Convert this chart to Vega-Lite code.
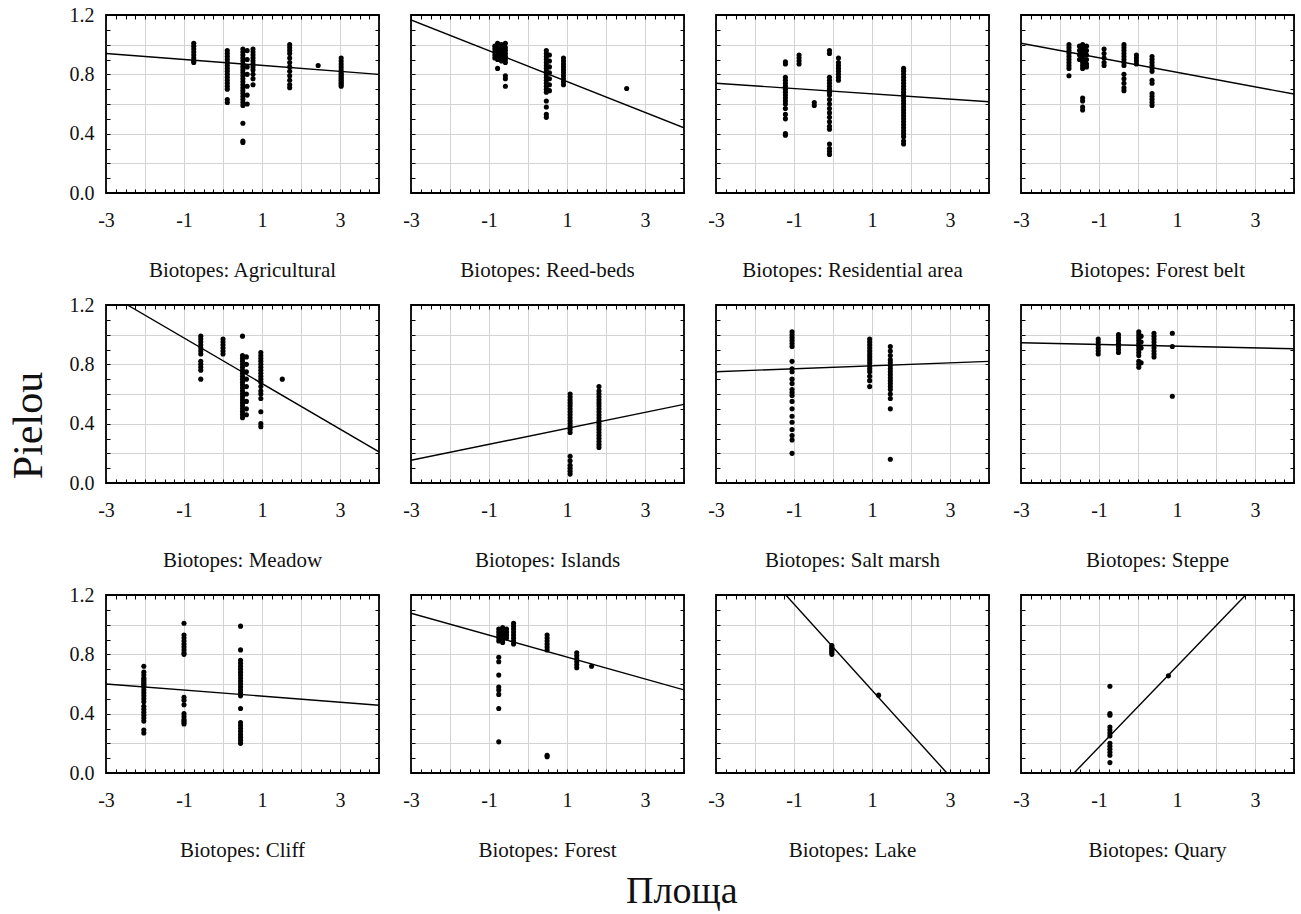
{
"$schema": "https://vega.github.io/schema/vega-lite/v6.json",
"background": "white",
"padding": {"left": 8, "top": 4, "right": 2, "bottom": 0},
"datasets": {
"lines": [
{"b":"Agricultural","x":-3,"y":0.94},{"b":"Agricultural","x":4,"y":0.80},
{"b":"Reed-beds","x":-3,"y":1.167},{"b":"Reed-beds","x":4,"y":0.44},
{"b":"Residential area","x":-3,"y":0.74},{"b":"Residential area","x":4,"y":0.615},
{"b":"Forest belt","x":-3,"y":1.01},{"b":"Forest belt","x":4,"y":0.667},
{"b":"Meadow","x":-2.45,"y":1.2},{"b":"Meadow","x":4,"y":0.21},
{"b":"Islands","x":-3,"y":0.153},{"b":"Islands","x":4,"y":0.53},
{"b":"Salt marsh","x":-3,"y":0.75},{"b":"Salt marsh","x":4,"y":0.82},
{"b":"Steppe","x":-3,"y":0.946},{"b":"Steppe","x":4,"y":0.905},
{"b":"Cliff","x":-3,"y":0.60},{"b":"Cliff","x":4,"y":0.457},
{"b":"Forest","x":-3,"y":1.077},{"b":"Forest","x":4,"y":0.56},
{"b":"Lake","x":-1.21,"y":1.2},{"b":"Lake","x":2.92,"y":0},
{"b":"Quary","x":-1.64,"y":0},{"b":"Quary","x":2.76,"y":1.2}
],
"pts": [
{"b":"Agricultural","x":-0.75,"y":1.01},{"b":"Agricultural","x":-0.75,"y":0.99},{"b":"Agricultural","x":-0.75,"y":0.97},{"b":"Agricultural","x":-0.75,"y":0.95},{"b":"Agricultural","x":-0.75,"y":0.93},{"b":"Agricultural","x":-0.75,"y":0.91},{"b":"Agricultural","x":-0.75,"y":0.89},{"b":"Agricultural","x":-0.75,"y":0.88},
{"b":"Agricultural","x":0.11,"y":0.96},{"b":"Agricultural","x":0.11,"y":0.94},{"b":"Agricultural","x":0.11,"y":0.92},{"b":"Agricultural","x":0.11,"y":0.90},{"b":"Agricultural","x":0.11,"y":0.88},{"b":"Agricultural","x":0.11,"y":0.86},{"b":"Agricultural","x":0.11,"y":0.84},{"b":"Agricultural","x":0.11,"y":0.82},{"b":"Agricultural","x":0.11,"y":0.80},{"b":"Agricultural","x":0.11,"y":0.78},{"b":"Agricultural","x":0.11,"y":0.76},{"b":"Agricultural","x":0.11,"y":0.74},{"b":"Agricultural","x":0.11,"y":0.72},{"b":"Agricultural","x":0.11,"y":0.70},{"b":"Agricultural","x":0.11,"y":0.63},{"b":"Agricultural","x":0.11,"y":0.61},
{"b":"Agricultural","x":0.51,"y":0.97},{"b":"Agricultural","x":0.51,"y":0.95},{"b":"Agricultural","x":0.51,"y":0.93},{"b":"Agricultural","x":0.51,"y":0.91},{"b":"Agricultural","x":0.51,"y":0.89},{"b":"Agricultural","x":0.51,"y":0.87},{"b":"Agricultural","x":0.51,"y":0.85},{"b":"Agricultural","x":0.51,"y":0.83},{"b":"Agricultural","x":0.51,"y":0.81},{"b":"Agricultural","x":0.51,"y":0.79},{"b":"Agricultural","x":0.51,"y":0.77},{"b":"Agricultural","x":0.51,"y":0.75},{"b":"Agricultural","x":0.51,"y":0.73},{"b":"Agricultural","x":0.51,"y":0.71},{"b":"Agricultural","x":0.51,"y":0.69},{"b":"Agricultural","x":0.51,"y":0.67},{"b":"Agricultural","x":0.51,"y":0.65},{"b":"Agricultural","x":0.51,"y":0.63},{"b":"Agricultural","x":0.51,"y":0.61},{"b":"Agricultural","x":0.51,"y":0.59},{"b":"Agricultural","x":0.51,"y":0.47},{"b":"Agricultural","x":0.51,"y":0.35},{"b":"Agricultural","x":0.51,"y":0.34},
{"b":"Agricultural","x":0.62,"y":0.96},{"b":"Agricultural","x":0.62,"y":0.90},{"b":"Agricultural","x":0.62,"y":0.85},{"b":"Agricultural","x":0.62,"y":0.80},{"b":"Agricultural","x":0.62,"y":0.72},{"b":"Agricultural","x":0.62,"y":0.66},{"b":"Agricultural","x":0.62,"y":0.60},
{"b":"Agricultural","x":0.77,"y":0.97},{"b":"Agricultural","x":0.77,"y":0.95},{"b":"Agricultural","x":0.77,"y":0.93},{"b":"Agricultural","x":0.77,"y":0.91},{"b":"Agricultural","x":0.77,"y":0.89},{"b":"Agricultural","x":0.77,"y":0.87},{"b":"Agricultural","x":0.77,"y":0.85},{"b":"Agricultural","x":0.77,"y":0.83},{"b":"Agricultural","x":0.77,"y":0.80},{"b":"Agricultural","x":0.77,"y":0.77},{"b":"Agricultural","x":0.77,"y":0.73},
{"b":"Agricultural","x":1.71,"y":1.0},{"b":"Agricultural","x":1.71,"y":0.98},{"b":"Agricultural","x":1.71,"y":0.96},{"b":"Agricultural","x":1.71,"y":0.94},{"b":"Agricultural","x":1.71,"y":0.91},{"b":"Agricultural","x":1.71,"y":0.88},{"b":"Agricultural","x":1.71,"y":0.85},{"b":"Agricultural","x":1.71,"y":0.82},{"b":"Agricultural","x":1.71,"y":0.79},{"b":"Agricultural","x":1.71,"y":0.76},{"b":"Agricultural","x":1.71,"y":0.73},{"b":"Agricultural","x":1.71,"y":0.71},
{"b":"Agricultural","x":2.44,"y":0.86},
{"b":"Agricultural","x":3.03,"y":0.91},{"b":"Agricultural","x":3.03,"y":0.89},{"b":"Agricultural","x":3.03,"y":0.87},{"b":"Agricultural","x":3.03,"y":0.85},{"b":"Agricultural","x":3.03,"y":0.83},{"b":"Agricultural","x":3.03,"y":0.81},{"b":"Agricultural","x":3.03,"y":0.80},{"b":"Agricultural","x":3.03,"y":0.79},{"b":"Agricultural","x":3.03,"y":0.78},{"b":"Agricultural","x":3.03,"y":0.77},{"b":"Agricultural","x":3.03,"y":0.76},{"b":"Agricultural","x":3.03,"y":0.75},{"b":"Agricultural","x":3.03,"y":0.74},{"b":"Agricultural","x":3.03,"y":0.73},{"b":"Agricultural","x":3.03,"y":0.72},

{"b":"Reed-beds","x":-0.85,"y":0.99},{"b":"Reed-beds","x":-0.85,"y":0.97},{"b":"Reed-beds","x":-0.85,"y":0.95},{"b":"Reed-beds","x":-0.85,"y":0.93},{"b":"Reed-beds","x":-0.85,"y":0.91},
{"b":"Reed-beds","x":-0.78,"y":1.01},{"b":"Reed-beds","x":-0.78,"y":0.98},{"b":"Reed-beds","x":-0.78,"y":0.96},{"b":"Reed-beds","x":-0.78,"y":0.94},{"b":"Reed-beds","x":-0.78,"y":0.92},{"b":"Reed-beds","x":-0.78,"y":0.90},{"b":"Reed-beds","x":-0.78,"y":0.84},
{"b":"Reed-beds","x":-0.68,"y":1.0},{"b":"Reed-beds","x":-0.68,"y":0.97},{"b":"Reed-beds","x":-0.68,"y":0.95},{"b":"Reed-beds","x":-0.68,"y":0.93},{"b":"Reed-beds","x":-0.68,"y":0.91},{"b":"Reed-beds","x":-0.68,"y":0.89},
{"b":"Reed-beds","x":-0.58,"y":1.01},{"b":"Reed-beds","x":-0.58,"y":0.98},{"b":"Reed-beds","x":-0.58,"y":0.96},{"b":"Reed-beds","x":-0.58,"y":0.94},{"b":"Reed-beds","x":-0.58,"y":0.92},{"b":"Reed-beds","x":-0.58,"y":0.90},{"b":"Reed-beds","x":-0.58,"y":0.88},{"b":"Reed-beds","x":-0.58,"y":0.79},{"b":"Reed-beds","x":-0.58,"y":0.77},{"b":"Reed-beds","x":-0.58,"y":0.72},
{"b":"Reed-beds","x":0.47,"y":0.96},{"b":"Reed-beds","x":0.47,"y":0.94},{"b":"Reed-beds","x":0.47,"y":0.92},{"b":"Reed-beds","x":0.47,"y":0.90},{"b":"Reed-beds","x":0.47,"y":0.88},{"b":"Reed-beds","x":0.47,"y":0.86},{"b":"Reed-beds","x":0.47,"y":0.84},{"b":"Reed-beds","x":0.47,"y":0.82},{"b":"Reed-beds","x":0.47,"y":0.80},{"b":"Reed-beds","x":0.47,"y":0.78},{"b":"Reed-beds","x":0.47,"y":0.76},{"b":"Reed-beds","x":0.47,"y":0.74},{"b":"Reed-beds","x":0.47,"y":0.72},{"b":"Reed-beds","x":0.47,"y":0.70},{"b":"Reed-beds","x":0.47,"y":0.68},{"b":"Reed-beds","x":0.47,"y":0.62},{"b":"Reed-beds","x":0.47,"y":0.58},{"b":"Reed-beds","x":0.47,"y":0.53},{"b":"Reed-beds","x":0.47,"y":0.51},
{"b":"Reed-beds","x":0.55,"y":0.93},{"b":"Reed-beds","x":0.55,"y":0.89},{"b":"Reed-beds","x":0.55,"y":0.85},{"b":"Reed-beds","x":0.55,"y":0.81},{"b":"Reed-beds","x":0.55,"y":0.77},{"b":"Reed-beds","x":0.55,"y":0.73},{"b":"Reed-beds","x":0.55,"y":0.69},
{"b":"Reed-beds","x":0.91,"y":0.91},{"b":"Reed-beds","x":0.91,"y":0.89},{"b":"Reed-beds","x":0.91,"y":0.87},{"b":"Reed-beds","x":0.91,"y":0.85},{"b":"Reed-beds","x":0.91,"y":0.83},{"b":"Reed-beds","x":0.91,"y":0.81},{"b":"Reed-beds","x":0.91,"y":0.79},{"b":"Reed-beds","x":0.91,"y":0.77},{"b":"Reed-beds","x":0.91,"y":0.75},{"b":"Reed-beds","x":0.91,"y":0.73},
{"b":"Reed-beds","x":2.53,"y":0.705},

{"b":"Residential area","x":-1.22,"y":0.885},{"b":"Residential area","x":-1.22,"y":0.87},{"b":"Residential area","x":-1.22,"y":0.78},{"b":"Residential area","x":-1.22,"y":0.76},{"b":"Residential area","x":-1.22,"y":0.74},{"b":"Residential area","x":-1.22,"y":0.72},{"b":"Residential area","x":-1.22,"y":0.70},{"b":"Residential area","x":-1.22,"y":0.68},{"b":"Residential area","x":-1.22,"y":0.66},{"b":"Residential area","x":-1.22,"y":0.64},{"b":"Residential area","x":-1.22,"y":0.62},{"b":"Residential area","x":-1.22,"y":0.60},{"b":"Residential area","x":-1.22,"y":0.57},{"b":"Residential area","x":-1.22,"y":0.53},{"b":"Residential area","x":-1.22,"y":0.50},{"b":"Residential area","x":-1.22,"y":0.40},{"b":"Residential area","x":-1.22,"y":0.39},
{"b":"Residential area","x":-0.87,"y":0.93},{"b":"Residential area","x":-0.87,"y":0.91},{"b":"Residential area","x":-0.87,"y":0.89},{"b":"Residential area","x":-0.87,"y":0.87},
{"b":"Residential area","x":-0.48,"y":0.61},{"b":"Residential area","x":-0.48,"y":0.59},
{"b":"Residential area","x":-0.09,"y":0.96},{"b":"Residential area","x":-0.09,"y":0.94},{"b":"Residential area","x":-0.09,"y":0.78},{"b":"Residential area","x":-0.09,"y":0.76},{"b":"Residential area","x":-0.09,"y":0.74},{"b":"Residential area","x":-0.09,"y":0.72},{"b":"Residential area","x":-0.09,"y":0.70},{"b":"Residential area","x":-0.09,"y":0.68},{"b":"Residential area","x":-0.09,"y":0.66},{"b":"Residential area","x":-0.09,"y":0.63},{"b":"Residential area","x":-0.09,"y":0.60},{"b":"Residential area","x":-0.09,"y":0.57},{"b":"Residential area","x":-0.09,"y":0.54},{"b":"Residential area","x":-0.09,"y":0.51},{"b":"Residential area","x":-0.09,"y":0.48},{"b":"Residential area","x":-0.09,"y":0.45},{"b":"Residential area","x":-0.09,"y":0.43},{"b":"Residential area","x":-0.09,"y":0.33},{"b":"Residential area","x":-0.09,"y":0.30},{"b":"Residential area","x":-0.09,"y":0.28},{"b":"Residential area","x":-0.09,"y":0.26},
{"b":"Residential area","x":0.14,"y":0.91},{"b":"Residential area","x":0.14,"y":0.88},{"b":"Residential area","x":0.14,"y":0.86},{"b":"Residential area","x":0.14,"y":0.84},{"b":"Residential area","x":0.14,"y":0.82},{"b":"Residential area","x":0.14,"y":0.80},{"b":"Residential area","x":0.14,"y":0.78},{"b":"Residential area","x":0.14,"y":0.76},
{"b":"Residential area","x":1.81,"y":0.84},{"b":"Residential area","x":1.81,"y":0.82},{"b":"Residential area","x":1.81,"y":0.80},{"b":"Residential area","x":1.81,"y":0.78},{"b":"Residential area","x":1.81,"y":0.76},{"b":"Residential area","x":1.81,"y":0.74},{"b":"Residential area","x":1.81,"y":0.72},{"b":"Residential area","x":1.81,"y":0.70},{"b":"Residential area","x":1.81,"y":0.68},{"b":"Residential area","x":1.81,"y":0.66},{"b":"Residential area","x":1.81,"y":0.64},{"b":"Residential area","x":1.81,"y":0.62},{"b":"Residential area","x":1.81,"y":0.60},{"b":"Residential area","x":1.81,"y":0.58},{"b":"Residential area","x":1.81,"y":0.56},{"b":"Residential area","x":1.81,"y":0.54},{"b":"Residential area","x":1.81,"y":0.52},{"b":"Residential area","x":1.81,"y":0.50},{"b":"Residential area","x":1.81,"y":0.48},{"b":"Residential area","x":1.81,"y":0.46},{"b":"Residential area","x":1.81,"y":0.44},{"b":"Residential area","x":1.81,"y":0.42},{"b":"Residential area","x":1.81,"y":0.40},{"b":"Residential area","x":1.81,"y":0.38},{"b":"Residential area","x":1.81,"y":0.35},{"b":"Residential area","x":1.81,"y":0.33},

{"b":"Forest belt","x":-1.77,"y":1.0},{"b":"Forest belt","x":-1.77,"y":0.98},{"b":"Forest belt","x":-1.77,"y":0.96},{"b":"Forest belt","x":-1.77,"y":0.94},{"b":"Forest belt","x":-1.77,"y":0.92},{"b":"Forest belt","x":-1.77,"y":0.90},{"b":"Forest belt","x":-1.77,"y":0.88},{"b":"Forest belt","x":-1.77,"y":0.86},{"b":"Forest belt","x":-1.77,"y":0.84},{"b":"Forest belt","x":-1.77,"y":0.79},
{"b":"Forest belt","x":-1.5,"y":0.99},{"b":"Forest belt","x":-1.5,"y":0.96},{"b":"Forest belt","x":-1.5,"y":0.93},{"b":"Forest belt","x":-1.5,"y":0.90},
{"b":"Forest belt","x":-1.42,"y":1.0},{"b":"Forest belt","x":-1.42,"y":0.98},{"b":"Forest belt","x":-1.42,"y":0.96},{"b":"Forest belt","x":-1.42,"y":0.94},{"b":"Forest belt","x":-1.42,"y":0.92},{"b":"Forest belt","x":-1.42,"y":0.90},{"b":"Forest belt","x":-1.42,"y":0.88},{"b":"Forest belt","x":-1.42,"y":0.86},{"b":"Forest belt","x":-1.42,"y":0.84},{"b":"Forest belt","x":-1.42,"y":0.64},{"b":"Forest belt","x":-1.42,"y":0.62},{"b":"Forest belt","x":-1.42,"y":0.58},{"b":"Forest belt","x":-1.42,"y":0.56},
{"b":"Forest belt","x":-1.32,"y":0.99},{"b":"Forest belt","x":-1.32,"y":0.96},{"b":"Forest belt","x":-1.32,"y":0.93},{"b":"Forest belt","x":-1.32,"y":0.90},{"b":"Forest belt","x":-1.32,"y":0.87},{"b":"Forest belt","x":-1.32,"y":0.85},
{"b":"Forest belt","x":-0.87,"y":0.97},{"b":"Forest belt","x":-0.87,"y":0.94},{"b":"Forest belt","x":-0.87,"y":0.91},{"b":"Forest belt","x":-0.87,"y":0.88},{"b":"Forest belt","x":-0.87,"y":0.86},
{"b":"Forest belt","x":-0.36,"y":1.0},{"b":"Forest belt","x":-0.36,"y":0.98},{"b":"Forest belt","x":-0.36,"y":0.96},{"b":"Forest belt","x":-0.36,"y":0.94},{"b":"Forest belt","x":-0.36,"y":0.92},{"b":"Forest belt","x":-0.36,"y":0.90},{"b":"Forest belt","x":-0.36,"y":0.88},{"b":"Forest belt","x":-0.36,"y":0.86},{"b":"Forest belt","x":-0.36,"y":0.80},{"b":"Forest belt","x":-0.36,"y":0.77},{"b":"Forest belt","x":-0.36,"y":0.74},{"b":"Forest belt","x":-0.36,"y":0.71},{"b":"Forest belt","x":-0.36,"y":0.69},
{"b":"Forest belt","x":-0.04,"y":0.93},{"b":"Forest belt","x":-0.04,"y":0.91},{"b":"Forest belt","x":-0.04,"y":0.89},{"b":"Forest belt","x":-0.04,"y":0.87},
{"b":"Forest belt","x":0.36,"y":0.92},{"b":"Forest belt","x":0.36,"y":0.90},{"b":"Forest belt","x":0.36,"y":0.88},{"b":"Forest belt","x":0.36,"y":0.86},{"b":"Forest belt","x":0.36,"y":0.84},{"b":"Forest belt","x":0.36,"y":0.82},{"b":"Forest belt","x":0.36,"y":0.76},{"b":"Forest belt","x":0.36,"y":0.74},{"b":"Forest belt","x":0.36,"y":0.67},{"b":"Forest belt","x":0.36,"y":0.65},{"b":"Forest belt","x":0.36,"y":0.63},{"b":"Forest belt","x":0.36,"y":0.61},{"b":"Forest belt","x":0.36,"y":0.59},

{"b":"Meadow","x":-0.57,"y":0.99},{"b":"Meadow","x":-0.57,"y":0.97},{"b":"Meadow","x":-0.57,"y":0.95},{"b":"Meadow","x":-0.57,"y":0.93},{"b":"Meadow","x":-0.57,"y":0.91},{"b":"Meadow","x":-0.57,"y":0.89},{"b":"Meadow","x":-0.57,"y":0.87},{"b":"Meadow","x":-0.57,"y":0.82},{"b":"Meadow","x":-0.57,"y":0.80},{"b":"Meadow","x":-0.57,"y":0.78},{"b":"Meadow","x":-0.57,"y":0.76},{"b":"Meadow","x":-0.57,"y":0.70},
{"b":"Meadow","x":0.0,"y":0.97},{"b":"Meadow","x":0.0,"y":0.95},{"b":"Meadow","x":0.0,"y":0.93},{"b":"Meadow","x":0.0,"y":0.91},{"b":"Meadow","x":0.0,"y":0.89},{"b":"Meadow","x":0.0,"y":0.87},
{"b":"Meadow","x":0.5,"y":0.99},{"b":"Meadow","x":0.5,"y":0.86},{"b":"Meadow","x":0.5,"y":0.84},{"b":"Meadow","x":0.5,"y":0.82},{"b":"Meadow","x":0.5,"y":0.80},{"b":"Meadow","x":0.5,"y":0.78},{"b":"Meadow","x":0.5,"y":0.76},{"b":"Meadow","x":0.5,"y":0.74},{"b":"Meadow","x":0.5,"y":0.72},{"b":"Meadow","x":0.5,"y":0.70},{"b":"Meadow","x":0.5,"y":0.68},{"b":"Meadow","x":0.5,"y":0.66},{"b":"Meadow","x":0.5,"y":0.64},{"b":"Meadow","x":0.5,"y":0.62},{"b":"Meadow","x":0.5,"y":0.60},{"b":"Meadow","x":0.5,"y":0.58},{"b":"Meadow","x":0.5,"y":0.56},{"b":"Meadow","x":0.5,"y":0.54},{"b":"Meadow","x":0.5,"y":0.52},{"b":"Meadow","x":0.5,"y":0.50},{"b":"Meadow","x":0.5,"y":0.48},{"b":"Meadow","x":0.5,"y":0.46},{"b":"Meadow","x":0.5,"y":0.44},
{"b":"Meadow","x":0.6,"y":0.85},{"b":"Meadow","x":0.6,"y":0.80},{"b":"Meadow","x":0.6,"y":0.75},{"b":"Meadow","x":0.6,"y":0.70},{"b":"Meadow","x":0.6,"y":0.65},{"b":"Meadow","x":0.6,"y":0.60},{"b":"Meadow","x":0.6,"y":0.55},{"b":"Meadow","x":0.6,"y":0.50},{"b":"Meadow","x":0.6,"y":0.46},
{"b":"Meadow","x":0.97,"y":0.88},{"b":"Meadow","x":0.97,"y":0.86},{"b":"Meadow","x":0.97,"y":0.84},{"b":"Meadow","x":0.97,"y":0.82},{"b":"Meadow","x":0.97,"y":0.80},{"b":"Meadow","x":0.97,"y":0.78},{"b":"Meadow","x":0.97,"y":0.76},{"b":"Meadow","x":0.97,"y":0.74},{"b":"Meadow","x":0.97,"y":0.72},{"b":"Meadow","x":0.97,"y":0.70},{"b":"Meadow","x":0.97,"y":0.68},{"b":"Meadow","x":0.97,"y":0.65},{"b":"Meadow","x":0.97,"y":0.62},{"b":"Meadow","x":0.97,"y":0.60},{"b":"Meadow","x":0.97,"y":0.57},{"b":"Meadow","x":0.97,"y":0.48},{"b":"Meadow","x":0.97,"y":0.40},{"b":"Meadow","x":0.97,"y":0.38},
{"b":"Meadow","x":1.52,"y":0.70},

{"b":"Islands","x":1.08,"y":0.60},{"b":"Islands","x":1.08,"y":0.58},{"b":"Islands","x":1.08,"y":0.56},{"b":"Islands","x":1.08,"y":0.54},{"b":"Islands","x":1.08,"y":0.52},{"b":"Islands","x":1.08,"y":0.50},{"b":"Islands","x":1.08,"y":0.48},{"b":"Islands","x":1.08,"y":0.46},{"b":"Islands","x":1.08,"y":0.44},{"b":"Islands","x":1.08,"y":0.42},{"b":"Islands","x":1.08,"y":0.40},{"b":"Islands","x":1.08,"y":0.38},{"b":"Islands","x":1.08,"y":0.36},{"b":"Islands","x":1.08,"y":0.34},{"b":"Islands","x":1.08,"y":0.18},{"b":"Islands","x":1.08,"y":0.15},{"b":"Islands","x":1.08,"y":0.12},{"b":"Islands","x":1.08,"y":0.10},{"b":"Islands","x":1.08,"y":0.08},{"b":"Islands","x":1.08,"y":0.06},
{"b":"Islands","x":1.82,"y":0.65},{"b":"Islands","x":1.82,"y":0.62},{"b":"Islands","x":1.82,"y":0.60},{"b":"Islands","x":1.82,"y":0.58},{"b":"Islands","x":1.82,"y":0.56},{"b":"Islands","x":1.82,"y":0.54},{"b":"Islands","x":1.82,"y":0.52},{"b":"Islands","x":1.82,"y":0.50},{"b":"Islands","x":1.82,"y":0.48},{"b":"Islands","x":1.82,"y":0.46},{"b":"Islands","x":1.82,"y":0.44},{"b":"Islands","x":1.82,"y":0.42},{"b":"Islands","x":1.82,"y":0.40},{"b":"Islands","x":1.82,"y":0.38},{"b":"Islands","x":1.82,"y":0.36},{"b":"Islands","x":1.82,"y":0.34},{"b":"Islands","x":1.82,"y":0.32},{"b":"Islands","x":1.82,"y":0.30},{"b":"Islands","x":1.82,"y":0.28},{"b":"Islands","x":1.82,"y":0.26},{"b":"Islands","x":1.82,"y":0.24},

{"b":"Salt marsh","x":-1.05,"y":1.02},{"b":"Salt marsh","x":-1.05,"y":1.0},{"b":"Salt marsh","x":-1.05,"y":0.98},{"b":"Salt marsh","x":-1.05,"y":0.96},{"b":"Salt marsh","x":-1.05,"y":0.94},{"b":"Salt marsh","x":-1.05,"y":0.92},{"b":"Salt marsh","x":-1.05,"y":0.82},{"b":"Salt marsh","x":-1.05,"y":0.77},{"b":"Salt marsh","x":-1.05,"y":0.75},{"b":"Salt marsh","x":-1.05,"y":0.70},{"b":"Salt marsh","x":-1.05,"y":0.67},{"b":"Salt marsh","x":-1.05,"y":0.63},{"b":"Salt marsh","x":-1.05,"y":0.61},{"b":"Salt marsh","x":-1.05,"y":0.59},{"b":"Salt marsh","x":-1.05,"y":0.55},{"b":"Salt marsh","x":-1.05,"y":0.50},{"b":"Salt marsh","x":-1.05,"y":0.45},{"b":"Salt marsh","x":-1.05,"y":0.41},{"b":"Salt marsh","x":-1.05,"y":0.36},{"b":"Salt marsh","x":-1.05,"y":0.32},{"b":"Salt marsh","x":-1.05,"y":0.29},{"b":"Salt marsh","x":-1.05,"y":0.20},
{"b":"Salt marsh","x":0.94,"y":0.97},{"b":"Salt marsh","x":0.94,"y":0.95},{"b":"Salt marsh","x":0.94,"y":0.93},{"b":"Salt marsh","x":0.94,"y":0.91},{"b":"Salt marsh","x":0.94,"y":0.89},{"b":"Salt marsh","x":0.94,"y":0.87},{"b":"Salt marsh","x":0.94,"y":0.85},{"b":"Salt marsh","x":0.94,"y":0.83},{"b":"Salt marsh","x":0.94,"y":0.81},{"b":"Salt marsh","x":0.94,"y":0.79},{"b":"Salt marsh","x":0.94,"y":0.77},{"b":"Salt marsh","x":0.94,"y":0.75},{"b":"Salt marsh","x":0.94,"y":0.72},{"b":"Salt marsh","x":0.94,"y":0.69},{"b":"Salt marsh","x":0.94,"y":0.65},
{"b":"Salt marsh","x":1.47,"y":0.92},{"b":"Salt marsh","x":1.47,"y":0.89},{"b":"Salt marsh","x":1.47,"y":0.86},{"b":"Salt marsh","x":1.47,"y":0.83},{"b":"Salt marsh","x":1.47,"y":0.81},{"b":"Salt marsh","x":1.47,"y":0.79},{"b":"Salt marsh","x":1.47,"y":0.77},{"b":"Salt marsh","x":1.47,"y":0.75},{"b":"Salt marsh","x":1.47,"y":0.73},{"b":"Salt marsh","x":1.47,"y":0.71},{"b":"Salt marsh","x":1.47,"y":0.69},{"b":"Salt marsh","x":1.47,"y":0.67},{"b":"Salt marsh","x":1.47,"y":0.65},{"b":"Salt marsh","x":1.47,"y":0.63},{"b":"Salt marsh","x":1.47,"y":0.60},{"b":"Salt marsh","x":1.47,"y":0.57},{"b":"Salt marsh","x":1.47,"y":0.50},{"b":"Salt marsh","x":1.47,"y":0.16},

{"b":"Steppe","x":-1.02,"y":0.97},{"b":"Steppe","x":-1.02,"y":0.95},{"b":"Steppe","x":-1.02,"y":0.93},{"b":"Steppe","x":-1.02,"y":0.91},{"b":"Steppe","x":-1.02,"y":0.89},{"b":"Steppe","x":-1.02,"y":0.87},
{"b":"Steppe","x":-0.5,"y":1.0},{"b":"Steppe","x":-0.5,"y":0.98},{"b":"Steppe","x":-0.5,"y":0.96},{"b":"Steppe","x":-0.5,"y":0.94},{"b":"Steppe","x":-0.5,"y":0.92},{"b":"Steppe","x":-0.5,"y":0.90},{"b":"Steppe","x":-0.5,"y":0.88},
{"b":"Steppe","x":0.02,"y":1.02},{"b":"Steppe","x":0.02,"y":1.0},{"b":"Steppe","x":0.02,"y":0.98},{"b":"Steppe","x":0.02,"y":0.96},{"b":"Steppe","x":0.02,"y":0.94},{"b":"Steppe","x":0.02,"y":0.92},{"b":"Steppe","x":0.02,"y":0.90},{"b":"Steppe","x":0.02,"y":0.88},{"b":"Steppe","x":0.02,"y":0.86},{"b":"Steppe","x":0.02,"y":0.82},{"b":"Steppe","x":0.02,"y":0.80},{"b":"Steppe","x":0.02,"y":0.78},
{"b":"Steppe","x":0.08,"y":0.99},{"b":"Steppe","x":0.08,"y":0.95},{"b":"Steppe","x":0.08,"y":0.91},{"b":"Steppe","x":0.08,"y":0.81},
{"b":"Steppe","x":0.41,"y":1.01},{"b":"Steppe","x":0.41,"y":0.99},{"b":"Steppe","x":0.41,"y":0.97},{"b":"Steppe","x":0.41,"y":0.95},{"b":"Steppe","x":0.41,"y":0.93},{"b":"Steppe","x":0.41,"y":0.91},{"b":"Steppe","x":0.41,"y":0.89},{"b":"Steppe","x":0.41,"y":0.87},{"b":"Steppe","x":0.41,"y":0.85},
{"b":"Steppe","x":0.88,"y":1.01},{"b":"Steppe","x":0.88,"y":0.92},{"b":"Steppe","x":0.88,"y":0.585},

{"b":"Cliff","x":-2.03,"y":0.72},{"b":"Cliff","x":-2.03,"y":0.68},{"b":"Cliff","x":-2.03,"y":0.66},{"b":"Cliff","x":-2.03,"y":0.64},{"b":"Cliff","x":-2.03,"y":0.63},{"b":"Cliff","x":-2.03,"y":0.62},{"b":"Cliff","x":-2.03,"y":0.61},{"b":"Cliff","x":-2.03,"y":0.60},{"b":"Cliff","x":-2.03,"y":0.59},{"b":"Cliff","x":-2.03,"y":0.58},{"b":"Cliff","x":-2.03,"y":0.56},{"b":"Cliff","x":-2.03,"y":0.54},{"b":"Cliff","x":-2.03,"y":0.52},{"b":"Cliff","x":-2.03,"y":0.50},{"b":"Cliff","x":-2.03,"y":0.48},{"b":"Cliff","x":-2.03,"y":0.45},{"b":"Cliff","x":-2.03,"y":0.43},{"b":"Cliff","x":-2.03,"y":0.41},{"b":"Cliff","x":-2.03,"y":0.39},{"b":"Cliff","x":-2.03,"y":0.37},{"b":"Cliff","x":-2.03,"y":0.35},{"b":"Cliff","x":-2.03,"y":0.29},{"b":"Cliff","x":-2.03,"y":0.27},
{"b":"Cliff","x":-1.0,"y":1.01},{"b":"Cliff","x":-1.0,"y":0.93},{"b":"Cliff","x":-1.0,"y":0.91},{"b":"Cliff","x":-1.0,"y":0.89},{"b":"Cliff","x":-1.0,"y":0.87},{"b":"Cliff","x":-1.0,"y":0.85},{"b":"Cliff","x":-1.0,"y":0.83},{"b":"Cliff","x":-1.0,"y":0.81},{"b":"Cliff","x":-1.0,"y":0.80},{"b":"Cliff","x":-1.0,"y":0.51},{"b":"Cliff","x":-1.0,"y":0.49},{"b":"Cliff","x":-1.0,"y":0.46},{"b":"Cliff","x":-1.0,"y":0.40},{"b":"Cliff","x":-1.0,"y":0.38},{"b":"Cliff","x":-1.0,"y":0.36},{"b":"Cliff","x":-1.0,"y":0.35},{"b":"Cliff","x":-1.0,"y":0.34},{"b":"Cliff","x":-1.0,"y":0.33},
{"b":"Cliff","x":0.45,"y":0.99},{"b":"Cliff","x":0.45,"y":0.83},{"b":"Cliff","x":0.45,"y":0.76},{"b":"Cliff","x":0.45,"y":0.74},{"b":"Cliff","x":0.45,"y":0.72},{"b":"Cliff","x":0.45,"y":0.70},{"b":"Cliff","x":0.45,"y":0.68},{"b":"Cliff","x":0.45,"y":0.66},{"b":"Cliff","x":0.45,"y":0.64},{"b":"Cliff","x":0.45,"y":0.62},{"b":"Cliff","x":0.45,"y":0.60},{"b":"Cliff","x":0.45,"y":0.58},{"b":"Cliff","x":0.45,"y":0.56},{"b":"Cliff","x":0.45,"y":0.54},{"b":"Cliff","x":0.45,"y":0.52},{"b":"Cliff","x":0.45,"y":0.435},{"b":"Cliff","x":0.45,"y":0.34},{"b":"Cliff","x":0.45,"y":0.32},{"b":"Cliff","x":0.45,"y":0.30},{"b":"Cliff","x":0.45,"y":0.28},{"b":"Cliff","x":0.45,"y":0.26},{"b":"Cliff","x":0.45,"y":0.24},{"b":"Cliff","x":0.45,"y":0.22},{"b":"Cliff","x":0.45,"y":0.20},

{"b":"Forest","x":-0.75,"y":0.97},{"b":"Forest","x":-0.75,"y":0.95},{"b":"Forest","x":-0.75,"y":0.93},{"b":"Forest","x":-0.75,"y":0.91},{"b":"Forest","x":-0.75,"y":0.89},{"b":"Forest","x":-0.75,"y":0.78},{"b":"Forest","x":-0.75,"y":0.75},{"b":"Forest","x":-0.75,"y":0.66},{"b":"Forest","x":-0.75,"y":0.58},{"b":"Forest","x":-0.75,"y":0.56},{"b":"Forest","x":-0.75,"y":0.53},{"b":"Forest","x":-0.75,"y":0.435},{"b":"Forest","x":-0.75,"y":0.21},
{"b":"Forest","x":-0.65,"y":0.98},{"b":"Forest","x":-0.65,"y":0.96},{"b":"Forest","x":-0.65,"y":0.94},{"b":"Forest","x":-0.65,"y":0.92},{"b":"Forest","x":-0.65,"y":0.90},{"b":"Forest","x":-0.65,"y":0.88},
{"b":"Forest","x":-0.55,"y":0.97},{"b":"Forest","x":-0.55,"y":0.95},{"b":"Forest","x":-0.55,"y":0.93},{"b":"Forest","x":-0.55,"y":0.91},
{"b":"Forest","x":-0.37,"y":1.01},{"b":"Forest","x":-0.37,"y":0.99},{"b":"Forest","x":-0.37,"y":0.97},{"b":"Forest","x":-0.37,"y":0.95},{"b":"Forest","x":-0.37,"y":0.93},{"b":"Forest","x":-0.37,"y":0.91},{"b":"Forest","x":-0.37,"y":0.89},{"b":"Forest","x":-0.37,"y":0.87},
{"b":"Forest","x":0.49,"y":0.93},{"b":"Forest","x":0.49,"y":0.91},{"b":"Forest","x":0.49,"y":0.89},{"b":"Forest","x":0.49,"y":0.87},{"b":"Forest","x":0.49,"y":0.85},{"b":"Forest","x":0.49,"y":0.83},{"b":"Forest","x":0.49,"y":0.12},{"b":"Forest","x":0.49,"y":0.11},
{"b":"Forest","x":1.25,"y":0.81},{"b":"Forest","x":1.25,"y":0.79},{"b":"Forest","x":1.25,"y":0.77},{"b":"Forest","x":1.25,"y":0.75},{"b":"Forest","x":1.25,"y":0.73},{"b":"Forest","x":1.25,"y":0.71},
{"b":"Forest","x":1.63,"y":0.72},

{"b":"Lake","x":-0.03,"y":0.86},{"b":"Lake","x":-0.03,"y":0.85},{"b":"Lake","x":-0.03,"y":0.84},{"b":"Lake","x":-0.03,"y":0.83},{"b":"Lake","x":-0.03,"y":0.82},{"b":"Lake","x":-0.03,"y":0.81},{"b":"Lake","x":-0.03,"y":0.80},
{"b":"Lake","x":1.17,"y":0.525},

{"b":"Quary","x":-0.72,"y":0.585},{"b":"Quary","x":-0.72,"y":0.40},{"b":"Quary","x":-0.72,"y":0.39},{"b":"Quary","x":-0.72,"y":0.31},{"b":"Quary","x":-0.72,"y":0.29},{"b":"Quary","x":-0.72,"y":0.27},{"b":"Quary","x":-0.72,"y":0.25},{"b":"Quary","x":-0.72,"y":0.20},{"b":"Quary","x":-0.72,"y":0.18},{"b":"Quary","x":-0.72,"y":0.16},{"b":"Quary","x":-0.72,"y":0.14},{"b":"Quary","x":-0.72,"y":0.12},{"b":"Quary","x":-0.72,"y":0.07},
{"b":"Quary","x":0.78,"y":0.655}
]
},
"title": {"text": "Pielou", "orient": "left", "anchor": "middle", "font": "Liberation Serif", "fontSize": 42, "fontWeight": "normal", "color": "#111", "offset": 17, "dx": 32},
"vconcat": [{
"title": {"text": "Площа", "orient": "bottom", "anchor": "middle", "font": "Liberation Serif", "fontSize": 38, "fontWeight": "normal", "color": "#111", "offset": 11, "dx": 0},
"columns": 4,
"bounds": "flush",
"spacing": {"row": 112, "column": 32},
"concat": [
{"title": "Biotopes: Agricultural", "width": 273, "height": 178, "layer": [
{"data": {"name": "lines"}, "transform": [{"filter": "datum.b == 'Agricultural'"}], "mark": {"type": "line", "color": "black", "strokeWidth": 1.4, "clip": true}, "encoding": {"x": {"field": "x", "type": "quantitative", "scale": {"domain": [-3, 4], "nice": false}, "axis": {"orient": "top", "title": null, "labels": false, "grid": false, "values": [-3,-2.75,-2.5,-2.25,-2,-1.75,-1.5,-1.25,-1,-0.75,-0.5,-0.25,0,0.25,0.5,0.75,1,1.25,1.5,1.75,2,2.25,2.5,2.75,3,3.25,3.5,3.75,4]}}, "y": {"field": "y", "type": "quantitative", "scale": {"domain": [0, 1.2], "nice": false}, "axis": {"orient": "right", "title": null, "labels": false, "grid": false, "values": [0,0.1,0.2,0.3,0.4,0.5,0.6,0.7,0.8,0.9,1,1.1,1.2]}}}},
{"data": {"name": "pts"}, "transform": [{"filter": "datum.b == 'Agricultural'"}], "mark": {"type": "point", "shape": "circle", "filled": true, "color": "black", "opacity": 1, "size": 26}, "encoding": {"x": {"field": "x", "type": "quantitative", "scale": {"domain": [-3, 4], "nice": false}, "axis": {"orient": "bottom", "title": null, "labelFlush": false, "labelPadding": 21, "labelExpr": "abs(datum.value % 2) == 1 ? '' + datum.value : ''", "grid": true, "gridOpacity": {"condition": {"test": "datum.value % 1 == 0 && datum.value > -3 && datum.value < 4", "value": 1}, "value": 0}, "values": [-3,-2.75,-2.5,-2.25,-2,-1.75,-1.5,-1.25,-1,-0.75,-0.5,-0.25,0,0.25,0.5,0.75,1,1.25,1.5,1.75,2,2.25,2.5,2.75,3,3.25,3.5,3.75,4]}}, "y": {"field": "y", "type": "quantitative", "scale": {"domain": [0, 1.2], "nice": false}, "axis": {"orient": "left", "title": null, "labelPadding": 16, "labelExpr": "round(datum.value*10) % 4 == 0 ? format(datum.value, '.1f') : ''", "grid": true, "gridOpacity": {"condition": {"test": "round(datum.value*10) % 2 == 0 && datum.value > 0.01 && datum.value < 1.19", "value": 1}, "value": 0}, "values": [0,0.1,0.2,0.3,0.4,0.5,0.6,0.7,0.8,0.9,1,1.1,1.2]}}}}
], "resolve": {"axis": {"x": "independent", "y": "independent"}}},

{"title": "Biotopes: Reed-beds", "width": 273, "height": 178, "layer": [
{"data": {"name": "lines"}, "transform": [{"filter": "datum.b == 'Reed-beds'"}], "mark": {"type": "line", "color": "black", "strokeWidth": 1.4, "clip": true}, "encoding": {"x": {"field": "x", "type": "quantitative", "scale": {"domain": [-3, 4], "nice": false}, "axis": {"orient": "top", "title": null, "labels": false, "grid": false, "values": [-3,-2.75,-2.5,-2.25,-2,-1.75,-1.5,-1.25,-1,-0.75,-0.5,-0.25,0,0.25,0.5,0.75,1,1.25,1.5,1.75,2,2.25,2.5,2.75,3,3.25,3.5,3.75,4]}}, "y": {"field": "y", "type": "quantitative", "scale": {"domain": [0, 1.2], "nice": false}, "axis": {"orient": "right", "title": null, "labels": false, "grid": false, "values": [0,0.1,0.2,0.3,0.4,0.5,0.6,0.7,0.8,0.9,1,1.1,1.2]}}}},
{"data": {"name": "pts"}, "transform": [{"filter": "datum.b == 'Reed-beds'"}], "mark": {"type": "point", "shape": "circle", "filled": true, "color": "black", "opacity": 1, "size": 26}, "encoding": {"x": {"field": "x", "type": "quantitative", "scale": {"domain": [-3, 4], "nice": false}, "axis": {"orient": "bottom", "title": null, "labelFlush": false, "labelPadding": 21, "labelExpr": "abs(datum.value % 2) == 1 ? '' + datum.value : ''", "grid": true, "gridOpacity": {"condition": {"test": "datum.value % 1 == 0 && datum.value > -3 && datum.value < 4", "value": 1}, "value": 0}, "values": [-3,-2.75,-2.5,-2.25,-2,-1.75,-1.5,-1.25,-1,-0.75,-0.5,-0.25,0,0.25,0.5,0.75,1,1.25,1.5,1.75,2,2.25,2.5,2.75,3,3.25,3.5,3.75,4]}}, "y": {"field": "y", "type": "quantitative", "scale": {"domain": [0, 1.2], "nice": false}, "axis": {"orient": "left", "title": null, "labels": false, "grid": true, "gridOpacity": {"condition": {"test": "round(datum.value*10) % 2 == 0 && datum.value > 0.01 && datum.value < 1.19", "value": 1}, "value": 0}, "values": [0,0.1,0.2,0.3,0.4,0.5,0.6,0.7,0.8,0.9,1,1.1,1.2]}}}}
], "resolve": {"axis": {"x": "independent", "y": "independent"}}},

{"title": "Biotopes: Residential area", "width": 273, "height": 178, "layer": [
{"data": {"name": "lines"}, "transform": [{"filter": "datum.b == 'Residential area'"}], "mark": {"type": "line", "color": "black", "strokeWidth": 1.4, "clip": true}, "encoding": {"x": {"field": "x", "type": "quantitative", "scale": {"domain": [-3, 4], "nice": false}, "axis": {"orient": "top", "title": null, "labels": false, "grid": false, "values": [-3,-2.75,-2.5,-2.25,-2,-1.75,-1.5,-1.25,-1,-0.75,-0.5,-0.25,0,0.25,0.5,0.75,1,1.25,1.5,1.75,2,2.25,2.5,2.75,3,3.25,3.5,3.75,4]}}, "y": {"field": "y", "type": "quantitative", "scale": {"domain": [0, 1.2], "nice": false}, "axis": {"orient": "right", "title": null, "labels": false, "grid": false, "values": [0,0.1,0.2,0.3,0.4,0.5,0.6,0.7,0.8,0.9,1,1.1,1.2]}}}},
{"data": {"name": "pts"}, "transform": [{"filter": "datum.b == 'Residential area'"}], "mark": {"type": "point", "shape": "circle", "filled": true, "color": "black", "opacity": 1, "size": 26}, "encoding": {"x": {"field": "x", "type": "quantitative", "scale": {"domain": [-3, 4], "nice": false}, "axis": {"orient": "bottom", "title": null, "labelFlush": false, "labelPadding": 21, "labelExpr": "abs(datum.value % 2) == 1 ? '' + datum.value : ''", "grid": true, "gridOpacity": {"condition": {"test": "datum.value % 1 == 0 && datum.value > -3 && datum.value < 4", "value": 1}, "value": 0}, "values": [-3,-2.75,-2.5,-2.25,-2,-1.75,-1.5,-1.25,-1,-0.75,-0.5,-0.25,0,0.25,0.5,0.75,1,1.25,1.5,1.75,2,2.25,2.5,2.75,3,3.25,3.5,3.75,4]}}, "y": {"field": "y", "type": "quantitative", "scale": {"domain": [0, 1.2], "nice": false}, "axis": {"orient": "left", "title": null, "labels": false, "grid": true, "gridOpacity": {"condition": {"test": "round(datum.value*10) % 2 == 0 && datum.value > 0.01 && datum.value < 1.19", "value": 1}, "value": 0}, "values": [0,0.1,0.2,0.3,0.4,0.5,0.6,0.7,0.8,0.9,1,1.1,1.2]}}}}
], "resolve": {"axis": {"x": "independent", "y": "independent"}}},

{"title": "Biotopes: Forest belt", "width": 273, "height": 178, "layer": [
{"data": {"name": "lines"}, "transform": [{"filter": "datum.b == 'Forest belt'"}], "mark": {"type": "line", "color": "black", "strokeWidth": 1.4, "clip": true}, "encoding": {"x": {"field": "x", "type": "quantitative", "scale": {"domain": [-3, 4], "nice": false}, "axis": {"orient": "top", "title": null, "labels": false, "grid": false, "values": [-3,-2.75,-2.5,-2.25,-2,-1.75,-1.5,-1.25,-1,-0.75,-0.5,-0.25,0,0.25,0.5,0.75,1,1.25,1.5,1.75,2,2.25,2.5,2.75,3,3.25,3.5,3.75,4]}}, "y": {"field": "y", "type": "quantitative", "scale": {"domain": [0, 1.2], "nice": false}, "axis": {"orient": "right", "title": null, "labels": false, "grid": false, "values": [0,0.1,0.2,0.3,0.4,0.5,0.6,0.7,0.8,0.9,1,1.1,1.2]}}}},
{"data": {"name": "pts"}, "transform": [{"filter": "datum.b == 'Forest belt'"}], "mark": {"type": "point", "shape": "circle", "filled": true, "color": "black", "opacity": 1, "size": 26}, "encoding": {"x": {"field": "x", "type": "quantitative", "scale": {"domain": [-3, 4], "nice": false}, "axis": {"orient": "bottom", "title": null, "labelFlush": false, "labelPadding": 21, "labelExpr": "abs(datum.value % 2) == 1 ? '' + datum.value : ''", "grid": true, "gridOpacity": {"condition": {"test": "datum.value % 1 == 0 && datum.value > -3 && datum.value < 4", "value": 1}, "value": 0}, "values": [-3,-2.75,-2.5,-2.25,-2,-1.75,-1.5,-1.25,-1,-0.75,-0.5,-0.25,0,0.25,0.5,0.75,1,1.25,1.5,1.75,2,2.25,2.5,2.75,3,3.25,3.5,3.75,4]}}, "y": {"field": "y", "type": "quantitative", "scale": {"domain": [0, 1.2], "nice": false}, "axis": {"orient": "left", "title": null, "labels": false, "grid": true, "gridOpacity": {"condition": {"test": "round(datum.value*10) % 2 == 0 && datum.value > 0.01 && datum.value < 1.19", "value": 1}, "value": 0}, "values": [0,0.1,0.2,0.3,0.4,0.5,0.6,0.7,0.8,0.9,1,1.1,1.2]}}}}
], "resolve": {"axis": {"x": "independent", "y": "independent"}}},

{"title": "Biotopes: Meadow", "width": 273, "height": 178, "layer": [
{"data": {"name": "lines"}, "transform": [{"filter": "datum.b == 'Meadow'"}], "mark": {"type": "line", "color": "black", "strokeWidth": 1.4, "clip": true}, "encoding": {"x": {"field": "x", "type": "quantitative", "scale": {"domain": [-3, 4], "nice": false}, "axis": {"orient": "top", "title": null, "labels": false, "grid": false, "values": [-3,-2.75,-2.5,-2.25,-2,-1.75,-1.5,-1.25,-1,-0.75,-0.5,-0.25,0,0.25,0.5,0.75,1,1.25,1.5,1.75,2,2.25,2.5,2.75,3,3.25,3.5,3.75,4]}}, "y": {"field": "y", "type": "quantitative", "scale": {"domain": [0, 1.2], "nice": false}, "axis": {"orient": "right", "title": null, "labels": false, "grid": false, "values": [0,0.1,0.2,0.3,0.4,0.5,0.6,0.7,0.8,0.9,1,1.1,1.2]}}}},
{"data": {"name": "pts"}, "transform": [{"filter": "datum.b == 'Meadow'"}], "mark": {"type": "point", "shape": "circle", "filled": true, "color": "black", "opacity": 1, "size": 26}, "encoding": {"x": {"field": "x", "type": "quantitative", "scale": {"domain": [-3, 4], "nice": false}, "axis": {"orient": "bottom", "title": null, "labelFlush": false, "labelPadding": 21, "labelExpr": "abs(datum.value % 2) == 1 ? '' + datum.value : ''", "grid": true, "gridOpacity": {"condition": {"test": "datum.value % 1 == 0 && datum.value > -3 && datum.value < 4", "value": 1}, "value": 0}, "values": [-3,-2.75,-2.5,-2.25,-2,-1.75,-1.5,-1.25,-1,-0.75,-0.5,-0.25,0,0.25,0.5,0.75,1,1.25,1.5,1.75,2,2.25,2.5,2.75,3,3.25,3.5,3.75,4]}}, "y": {"field": "y", "type": "quantitative", "scale": {"domain": [0, 1.2], "nice": false}, "axis": {"orient": "left", "title": null, "labelPadding": 16, "labelExpr": "round(datum.value*10) % 4 == 0 ? format(datum.value, '.1f') : ''", "grid": true, "gridOpacity": {"condition": {"test": "round(datum.value*10) % 2 == 0 && datum.value > 0.01 && datum.value < 1.19", "value": 1}, "value": 0}, "values": [0,0.1,0.2,0.3,0.4,0.5,0.6,0.7,0.8,0.9,1,1.1,1.2]}}}}
], "resolve": {"axis": {"x": "independent", "y": "independent"}}},

{"title": "Biotopes: Islands", "width": 273, "height": 178, "layer": [
{"data": {"name": "lines"}, "transform": [{"filter": "datum.b == 'Islands'"}], "mark": {"type": "line", "color": "black", "strokeWidth": 1.4, "clip": true}, "encoding": {"x": {"field": "x", "type": "quantitative", "scale": {"domain": [-3, 4], "nice": false}, "axis": {"orient": "top", "title": null, "labels": false, "grid": false, "values": [-3,-2.75,-2.5,-2.25,-2,-1.75,-1.5,-1.25,-1,-0.75,-0.5,-0.25,0,0.25,0.5,0.75,1,1.25,1.5,1.75,2,2.25,2.5,2.75,3,3.25,3.5,3.75,4]}}, "y": {"field": "y", "type": "quantitative", "scale": {"domain": [0, 1.2], "nice": false}, "axis": {"orient": "right", "title": null, "labels": false, "grid": false, "values": [0,0.1,0.2,0.3,0.4,0.5,0.6,0.7,0.8,0.9,1,1.1,1.2]}}}},
{"data": {"name": "pts"}, "transform": [{"filter": "datum.b == 'Islands'"}], "mark": {"type": "point", "shape": "circle", "filled": true, "color": "black", "opacity": 1, "size": 26}, "encoding": {"x": {"field": "x", "type": "quantitative", "scale": {"domain": [-3, 4], "nice": false}, "axis": {"orient": "bottom", "title": null, "labelFlush": false, "labelPadding": 21, "labelExpr": "abs(datum.value % 2) == 1 ? '' + datum.value : ''", "grid": true, "gridOpacity": {"condition": {"test": "datum.value % 1 == 0 && datum.value > -3 && datum.value < 4", "value": 1}, "value": 0}, "values": [-3,-2.75,-2.5,-2.25,-2,-1.75,-1.5,-1.25,-1,-0.75,-0.5,-0.25,0,0.25,0.5,0.75,1,1.25,1.5,1.75,2,2.25,2.5,2.75,3,3.25,3.5,3.75,4]}}, "y": {"field": "y", "type": "quantitative", "scale": {"domain": [0, 1.2], "nice": false}, "axis": {"orient": "left", "title": null, "labels": false, "grid": true, "gridOpacity": {"condition": {"test": "round(datum.value*10) % 2 == 0 && datum.value > 0.01 && datum.value < 1.19", "value": 1}, "value": 0}, "values": [0,0.1,0.2,0.3,0.4,0.5,0.6,0.7,0.8,0.9,1,1.1,1.2]}}}}
], "resolve": {"axis": {"x": "independent", "y": "independent"}}},

{"title": "Biotopes: Salt marsh", "width": 273, "height": 178, "layer": [
{"data": {"name": "lines"}, "transform": [{"filter": "datum.b == 'Salt marsh'"}], "mark": {"type": "line", "color": "black", "strokeWidth": 1.4, "clip": true}, "encoding": {"x": {"field": "x", "type": "quantitative", "scale": {"domain": [-3, 4], "nice": false}, "axis": {"orient": "top", "title": null, "labels": false, "grid": false, "values": [-3,-2.75,-2.5,-2.25,-2,-1.75,-1.5,-1.25,-1,-0.75,-0.5,-0.25,0,0.25,0.5,0.75,1,1.25,1.5,1.75,2,2.25,2.5,2.75,3,3.25,3.5,3.75,4]}}, "y": {"field": "y", "type": "quantitative", "scale": {"domain": [0, 1.2], "nice": false}, "axis": {"orient": "right", "title": null, "labels": false, "grid": false, "values": [0,0.1,0.2,0.3,0.4,0.5,0.6,0.7,0.8,0.9,1,1.1,1.2]}}}},
{"data": {"name": "pts"}, "transform": [{"filter": "datum.b == 'Salt marsh'"}], "mark": {"type": "point", "shape": "circle", "filled": true, "color": "black", "opacity": 1, "size": 26}, "encoding": {"x": {"field": "x", "type": "quantitative", "scale": {"domain": [-3, 4], "nice": false}, "axis": {"orient": "bottom", "title": null, "labelFlush": false, "labelPadding": 21, "labelExpr": "abs(datum.value % 2) == 1 ? '' + datum.value : ''", "grid": true, "gridOpacity": {"condition": {"test": "datum.value % 1 == 0 && datum.value > -3 && datum.value < 4", "value": 1}, "value": 0}, "values": [-3,-2.75,-2.5,-2.25,-2,-1.75,-1.5,-1.25,-1,-0.75,-0.5,-0.25,0,0.25,0.5,0.75,1,1.25,1.5,1.75,2,2.25,2.5,2.75,3,3.25,3.5,3.75,4]}}, "y": {"field": "y", "type": "quantitative", "scale": {"domain": [0, 1.2], "nice": false}, "axis": {"orient": "left", "title": null, "labels": false, "grid": true, "gridOpacity": {"condition": {"test": "round(datum.value*10) % 2 == 0 && datum.value > 0.01 && datum.value < 1.19", "value": 1}, "value": 0}, "values": [0,0.1,0.2,0.3,0.4,0.5,0.6,0.7,0.8,0.9,1,1.1,1.2]}}}}
], "resolve": {"axis": {"x": "independent", "y": "independent"}}},

{"title": "Biotopes: Steppe", "width": 273, "height": 178, "layer": [
{"data": {"name": "lines"}, "transform": [{"filter": "datum.b == 'Steppe'"}], "mark": {"type": "line", "color": "black", "strokeWidth": 1.4, "clip": true}, "encoding": {"x": {"field": "x", "type": "quantitative", "scale": {"domain": [-3, 4], "nice": false}, "axis": {"orient": "top", "title": null, "labels": false, "grid": false, "values": [-3,-2.75,-2.5,-2.25,-2,-1.75,-1.5,-1.25,-1,-0.75,-0.5,-0.25,0,0.25,0.5,0.75,1,1.25,1.5,1.75,2,2.25,2.5,2.75,3,3.25,3.5,3.75,4]}}, "y": {"field": "y", "type": "quantitative", "scale": {"domain": [0, 1.2], "nice": false}, "axis": {"orient": "right", "title": null, "labels": false, "grid": false, "values": [0,0.1,0.2,0.3,0.4,0.5,0.6,0.7,0.8,0.9,1,1.1,1.2]}}}},
{"data": {"name": "pts"}, "transform": [{"filter": "datum.b == 'Steppe'"}], "mark": {"type": "point", "shape": "circle", "filled": true, "color": "black", "opacity": 1, "size": 26}, "encoding": {"x": {"field": "x", "type": "quantitative", "scale": {"domain": [-3, 4], "nice": false}, "axis": {"orient": "bottom", "title": null, "labelFlush": false, "labelPadding": 21, "labelExpr": "abs(datum.value % 2) == 1 ? '' + datum.value : ''", "grid": true, "gridOpacity": {"condition": {"test": "datum.value % 1 == 0 && datum.value > -3 && datum.value < 4", "value": 1}, "value": 0}, "values": [-3,-2.75,-2.5,-2.25,-2,-1.75,-1.5,-1.25,-1,-0.75,-0.5,-0.25,0,0.25,0.5,0.75,1,1.25,1.5,1.75,2,2.25,2.5,2.75,3,3.25,3.5,3.75,4]}}, "y": {"field": "y", "type": "quantitative", "scale": {"domain": [0, 1.2], "nice": false}, "axis": {"orient": "left", "title": null, "labels": false, "grid": true, "gridOpacity": {"condition": {"test": "round(datum.value*10) % 2 == 0 && datum.value > 0.01 && datum.value < 1.19", "value": 1}, "value": 0}, "values": [0,0.1,0.2,0.3,0.4,0.5,0.6,0.7,0.8,0.9,1,1.1,1.2]}}}}
], "resolve": {"axis": {"x": "independent", "y": "independent"}}},

{"title": "Biotopes: Cliff", "width": 273, "height": 178, "layer": [
{"data": {"name": "lines"}, "transform": [{"filter": "datum.b == 'Cliff'"}], "mark": {"type": "line", "color": "black", "strokeWidth": 1.4, "clip": true}, "encoding": {"x": {"field": "x", "type": "quantitative", "scale": {"domain": [-3, 4], "nice": false}, "axis": {"orient": "top", "title": null, "labels": false, "grid": false, "values": [-3,-2.75,-2.5,-2.25,-2,-1.75,-1.5,-1.25,-1,-0.75,-0.5,-0.25,0,0.25,0.5,0.75,1,1.25,1.5,1.75,2,2.25,2.5,2.75,3,3.25,3.5,3.75,4]}}, "y": {"field": "y", "type": "quantitative", "scale": {"domain": [0, 1.2], "nice": false}, "axis": {"orient": "right", "title": null, "labels": false, "grid": false, "values": [0,0.1,0.2,0.3,0.4,0.5,0.6,0.7,0.8,0.9,1,1.1,1.2]}}}},
{"data": {"name": "pts"}, "transform": [{"filter": "datum.b == 'Cliff'"}], "mark": {"type": "point", "shape": "circle", "filled": true, "color": "black", "opacity": 1, "size": 26}, "encoding": {"x": {"field": "x", "type": "quantitative", "scale": {"domain": [-3, 4], "nice": false}, "axis": {"orient": "bottom", "title": null, "labelFlush": false, "labelPadding": 21, "labelExpr": "abs(datum.value % 2) == 1 ? '' + datum.value : ''", "grid": true, "gridOpacity": {"condition": {"test": "datum.value % 1 == 0 && datum.value > -3 && datum.value < 4", "value": 1}, "value": 0}, "values": [-3,-2.75,-2.5,-2.25,-2,-1.75,-1.5,-1.25,-1,-0.75,-0.5,-0.25,0,0.25,0.5,0.75,1,1.25,1.5,1.75,2,2.25,2.5,2.75,3,3.25,3.5,3.75,4]}}, "y": {"field": "y", "type": "quantitative", "scale": {"domain": [0, 1.2], "nice": false}, "axis": {"orient": "left", "title": null, "labelPadding": 16, "labelExpr": "round(datum.value*10) % 4 == 0 ? format(datum.value, '.1f') : ''", "grid": true, "gridOpacity": {"condition": {"test": "round(datum.value*10) % 2 == 0 && datum.value > 0.01 && datum.value < 1.19", "value": 1}, "value": 0}, "values": [0,0.1,0.2,0.3,0.4,0.5,0.6,0.7,0.8,0.9,1,1.1,1.2]}}}}
], "resolve": {"axis": {"x": "independent", "y": "independent"}}},

{"title": "Biotopes: Forest", "width": 273, "height": 178, "layer": [
{"data": {"name": "lines"}, "transform": [{"filter": "datum.b == 'Forest'"}], "mark": {"type": "line", "color": "black", "strokeWidth": 1.4, "clip": true}, "encoding": {"x": {"field": "x", "type": "quantitative", "scale": {"domain": [-3, 4], "nice": false}, "axis": {"orient": "top", "title": null, "labels": false, "grid": false, "values": [-3,-2.75,-2.5,-2.25,-2,-1.75,-1.5,-1.25,-1,-0.75,-0.5,-0.25,0,0.25,0.5,0.75,1,1.25,1.5,1.75,2,2.25,2.5,2.75,3,3.25,3.5,3.75,4]}}, "y": {"field": "y", "type": "quantitative", "scale": {"domain": [0, 1.2], "nice": false}, "axis": {"orient": "right", "title": null, "labels": false, "grid": false, "values": [0,0.1,0.2,0.3,0.4,0.5,0.6,0.7,0.8,0.9,1,1.1,1.2]}}}},
{"data": {"name": "pts"}, "transform": [{"filter": "datum.b == 'Forest'"}], "mark": {"type": "point", "shape": "circle", "filled": true, "color": "black", "opacity": 1, "size": 26}, "encoding": {"x": {"field": "x", "type": "quantitative", "scale": {"domain": [-3, 4], "nice": false}, "axis": {"orient": "bottom", "title": null, "labelFlush": false, "labelPadding": 21, "labelExpr": "abs(datum.value % 2) == 1 ? '' + datum.value : ''", "grid": true, "gridOpacity": {"condition": {"test": "datum.value % 1 == 0 && datum.value > -3 && datum.value < 4", "value": 1}, "value": 0}, "values": [-3,-2.75,-2.5,-2.25,-2,-1.75,-1.5,-1.25,-1,-0.75,-0.5,-0.25,0,0.25,0.5,0.75,1,1.25,1.5,1.75,2,2.25,2.5,2.75,3,3.25,3.5,3.75,4]}}, "y": {"field": "y", "type": "quantitative", "scale": {"domain": [0, 1.2], "nice": false}, "axis": {"orient": "left", "title": null, "labels": false, "grid": true, "gridOpacity": {"condition": {"test": "round(datum.value*10) % 2 == 0 && datum.value > 0.01 && datum.value < 1.19", "value": 1}, "value": 0}, "values": [0,0.1,0.2,0.3,0.4,0.5,0.6,0.7,0.8,0.9,1,1.1,1.2]}}}}
], "resolve": {"axis": {"x": "independent", "y": "independent"}}},

{"title": "Biotopes: Lake", "width": 273, "height": 178, "layer": [
{"data": {"name": "lines"}, "transform": [{"filter": "datum.b == 'Lake'"}], "mark": {"type": "line", "color": "black", "strokeWidth": 1.4, "clip": true}, "encoding": {"x": {"field": "x", "type": "quantitative", "scale": {"domain": [-3, 4], "nice": false}, "axis": {"orient": "top", "title": null, "labels": false, "grid": false, "values": [-3,-2.75,-2.5,-2.25,-2,-1.75,-1.5,-1.25,-1,-0.75,-0.5,-0.25,0,0.25,0.5,0.75,1,1.25,1.5,1.75,2,2.25,2.5,2.75,3,3.25,3.5,3.75,4]}}, "y": {"field": "y", "type": "quantitative", "scale": {"domain": [0, 1.2], "nice": false}, "axis": {"orient": "right", "title": null, "labels": false, "grid": false, "values": [0,0.1,0.2,0.3,0.4,0.5,0.6,0.7,0.8,0.9,1,1.1,1.2]}}}},
{"data": {"name": "pts"}, "transform": [{"filter": "datum.b == 'Lake'"}], "mark": {"type": "point", "shape": "circle", "filled": true, "color": "black", "opacity": 1, "size": 26}, "encoding": {"x": {"field": "x", "type": "quantitative", "scale": {"domain": [-3, 4], "nice": false}, "axis": {"orient": "bottom", "title": null, "labelFlush": false, "labelPadding": 21, "labelExpr": "abs(datum.value % 2) == 1 ? '' + datum.value : ''", "grid": true, "gridOpacity": {"condition": {"test": "datum.value % 1 == 0 && datum.value > -3 && datum.value < 4", "value": 1}, "value": 0}, "values": [-3,-2.75,-2.5,-2.25,-2,-1.75,-1.5,-1.25,-1,-0.75,-0.5,-0.25,0,0.25,0.5,0.75,1,1.25,1.5,1.75,2,2.25,2.5,2.75,3,3.25,3.5,3.75,4]}}, "y": {"field": "y", "type": "quantitative", "scale": {"domain": [0, 1.2], "nice": false}, "axis": {"orient": "left", "title": null, "labels": false, "grid": true, "gridOpacity": {"condition": {"test": "round(datum.value*10) % 2 == 0 && datum.value > 0.01 && datum.value < 1.19", "value": 1}, "value": 0}, "values": [0,0.1,0.2,0.3,0.4,0.5,0.6,0.7,0.8,0.9,1,1.1,1.2]}}}}
], "resolve": {"axis": {"x": "independent", "y": "independent"}}},

{"title": "Biotopes: Quary", "width": 273, "height": 178, "layer": [
{"data": {"name": "lines"}, "transform": [{"filter": "datum.b == 'Quary'"}], "mark": {"type": "line", "color": "black", "strokeWidth": 1.4, "clip": true}, "encoding": {"x": {"field": "x", "type": "quantitative", "scale": {"domain": [-3, 4], "nice": false}, "axis": {"orient": "top", "title": null, "labels": false, "grid": false, "values": [-3,-2.75,-2.5,-2.25,-2,-1.75,-1.5,-1.25,-1,-0.75,-0.5,-0.25,0,0.25,0.5,0.75,1,1.25,1.5,1.75,2,2.25,2.5,2.75,3,3.25,3.5,3.75,4]}}, "y": {"field": "y", "type": "quantitative", "scale": {"domain": [0, 1.2], "nice": false}, "axis": {"orient": "right", "title": null, "labels": false, "grid": false, "values": [0,0.1,0.2,0.3,0.4,0.5,0.6,0.7,0.8,0.9,1,1.1,1.2]}}}},
{"data": {"name": "pts"}, "transform": [{"filter": "datum.b == 'Quary'"}], "mark": {"type": "point", "shape": "circle", "filled": true, "color": "black", "opacity": 1, "size": 26}, "encoding": {"x": {"field": "x", "type": "quantitative", "scale": {"domain": [-3, 4], "nice": false}, "axis": {"orient": "bottom", "title": null, "labelFlush": false, "labelPadding": 21, "labelExpr": "abs(datum.value % 2) == 1 ? '' + datum.value : ''", "grid": true, "gridOpacity": {"condition": {"test": "datum.value % 1 == 0 && datum.value > -3 && datum.value < 4", "value": 1}, "value": 0}, "values": [-3,-2.75,-2.5,-2.25,-2,-1.75,-1.5,-1.25,-1,-0.75,-0.5,-0.25,0,0.25,0.5,0.75,1,1.25,1.5,1.75,2,2.25,2.5,2.75,3,3.25,3.5,3.75,4]}}, "y": {"field": "y", "type": "quantitative", "scale": {"domain": [0, 1.2], "nice": false}, "axis": {"orient": "left", "title": null, "labels": false, "grid": true, "gridOpacity": {"condition": {"test": "round(datum.value*10) % 2 == 0 && datum.value > 0.01 && datum.value < 1.19", "value": 1}, "value": 0}, "values": [0,0.1,0.2,0.3,0.4,0.5,0.6,0.7,0.8,0.9,1,1.1,1.2]}}}}
], "resolve": {"axis": {"x": "independent", "y": "independent"}}}
]
}],
"config": {
"view": {"stroke": "#000", "strokeWidth": 1.8},
"axis": {"domain": false, "tickColor": "#000", "tickWidth": 1, "tickSize": -4, "labelFont": "Liberation Serif", "labelFontSize": 20, "labelColor": "#111", "gridColor": "#d3d3d3", "gridWidth": 1},
"title": {"font": "Liberation Serif", "fontSize": 21, "fontWeight": "normal", "color": "#111", "orient": "bottom", "anchor": "middle", "offset": 30}
}
}
